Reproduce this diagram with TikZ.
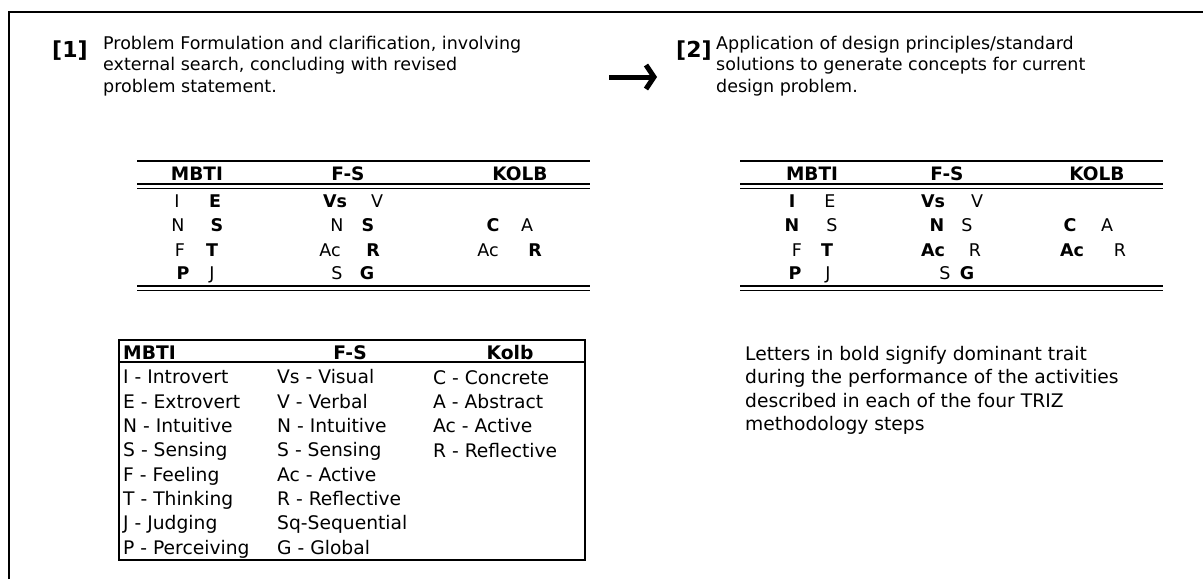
\documentclass[tikz,border=0pt]{standalone}
\usepackage{fontspec}
\setmainfont{DejaVu Sans}
\usetikzlibrary{arrows.meta,positioning}

\tikzstyle{stepnum} = [anchor=base west, inner sep=0, font=\fontsize{22}{26}\selectfont\bfseries]
\tikzstyle{steptext} = [anchor=base west, inner sep=0, align=left, font=\fontsize{17.5}{21.5}\selectfont]
\tikzstyle{head} = [anchor=base, inner sep=0, font=\fontsize{18.5}{20}\selectfont\bfseries]
\tikzstyle{cell} = [anchor=base, inner sep=0, font=\fontsize{17.5}{20}\selectfont]
\tikzstyle{bcell} = [cell, font=\fontsize{17.5}{20}\selectfont\bfseries]
\tikzstyle{legend} = [anchor=base west, inner sep=0, align=left, font=\fontsize{18.7}{24.3}\selectfont]
\tikzstyle{note} = [anchor=base west, inner sep=0, align=left, font=\fontsize{18.7}{23.5}\selectfont]
\tikzstyle{rule} = [draw, line width=2pt]
\tikzstyle{thin} = [draw, line width=1.2pt]
\tikzstyle{arrow} = [draw, line width=5pt, -{Straight Barb[length=8pt, width=24pt, line width=5pt]}]

\begin{document}
\begin{tikzpicture}[x=1pt, y=-1pt]
    \useasboundingbox (0,0) rectangle (1203,579);

    % frame
    \draw[line width=2pt] (9,579) -- (9,11.5) -- (1203,11.5);

    % steps (multi-line nodes sit on their last line)
    \node[stepnum] (num1) at (52,57) {[1]};
    \node[steptext] (text1) at (103,92) {Problem Formulation and clarification, involving\\external search, concluding with revised\\problem statement.};
    \node[stepnum] (num2) at (676,57) {[2]};
    \node[steptext] (text2) at (716,92) {Application of design principles/standard\\solutions to generate concepts for current\\design problem.};

    \coordinate (arrS) at (609,77);
    \coordinate (arrE) at (657,77);
    \draw [arrow] (arrS) to (arrE);

    % table of step 1
    \draw[rule] (137,161) -- (590,161);
    \draw[rule] (137,184) -- (590,184);
    \draw[thin] (137,188.5) -- (590,188.5);
    \draw[rule] (137,286) -- (590,286);
    \draw[thin] (137,290.5) -- (590,290.5);

    \node[head] (aM) at (197,180) {MBTI};
    \node[head] (aF) at (348,180) {F-S};
    \node[head] (aK) at (520,180) {KOLB};

    \node[cell] (a11) at (177,207) {I};   \node[bcell] (a12) at (215,207) {E};
    \node[bcell] (a13) at (335,207) {Vs};  \node[cell] (a14) at (377,207) {V};
    \node[cell] (a21) at (178,231.5) {N}; \node[bcell] (a22) at (217,231.5) {S};
    \node[cell] (a23) at (337,231.5) {N}; \node[bcell] (a24) at (368,231.5) {S};
    \node[bcell] (a25) at (493,231.5) {C}; \node[cell] (a26) at (527,231.5) {A};
    \node[cell] (a31) at (180,256) {F};   \node[bcell] (a32) at (212,256) {T};
    \node[cell] (a33) at (330,256) {Ac};  \node[bcell] (a34) at (373,256) {R};
    \node[cell] (a35) at (488,256) {Ac};  \node[bcell] (a36) at (535,256) {R};
    \node[bcell] (a41) at (183,279) {P};  \node[cell] (a42) at (212,279) {J};
    \node[cell] (a43) at (337,279) {S};   \node[bcell] (a44) at (367,279) {G};

    % table of step 2
    \draw[rule] (740,161) -- (1163,161);
    \draw[rule] (740,184) -- (1163,184);
    \draw[thin] (740,188.5) -- (1163,188.5);
    \draw[rule] (740,286) -- (1163,286);
    \draw[thin] (740,290.5) -- (1163,290.5);

    \node[head] (bM) at (812,180) {MBTI};
    \node[head] (bF) at (947,180) {F-S};
    \node[head] (bK) at (1097,180) {KOLB};

    \node[bcell] (b11) at (792,207) {I};  \node[cell] (b12) at (830,207) {E};
    \node[bcell] (b13) at (933,207) {Vs};  \node[cell] (b14) at (977,207) {V};
    \node[bcell] (b21) at (792,231.5) {N}; \node[cell] (b22) at (832,231.5) {S};
    \node[bcell] (b23) at (937,231.5) {N}; \node[cell] (b24) at (967,231.5) {S};
    \node[bcell] (b25) at (1070,231.5) {C}; \node[cell] (b26) at (1107,231.5) {A};
    \node[cell] (b31) at (797,256) {F};   \node[bcell] (b32) at (827,256) {T};
    \node[bcell] (b33) at (933,256) {Ac}; \node[cell] (b34) at (975,256) {R};
    \node[bcell] (b35) at (1072,256) {Ac}; \node[cell] (b36) at (1120,256) {R};
    \node[bcell] (b41) at (795,279) {P};  \node[cell] (b42) at (828,279) {J};
    \node[cell] (b43) at (945,279) {S};   \node[bcell] (b44) at (967,279) {G};

    % legend
    \draw[line width=1.5pt] (119,340) rectangle (585,560);
    \draw[line width=1.5pt] (119,362) -- (585,362);
    \node[legend, font=\fontsize{18.7}{24.3}\selectfont\bfseries] (legMh) at (123,359) {MBTI};
    \node[head, font=\fontsize{18.7}{24.3}\selectfont\bfseries] (legFh) at (350,359) {F-S};
    \node[head, font=\fontsize{18.7}{24.3}\selectfont\bfseries] (legKh) at (510,359) {Kolb};
    \node[legend] (legM) at (123,554) {I - Introvert\\E - Extrovert\\N - Intuitive\\S - Sensing\\F - Feeling\\T - Thinking\\J - Judging\\P - Perceiving};
    \node[legend] (legF) at (277,554) {Vs - Visual\\V - Verbal\\N - Intuitive\\S - Sensing\\Ac - Active\\R - Reflective\\Sq-Sequential\\G - Global};
    \node[legend] (legK) at (433,457) {C - Concrete\\A - Abstract\\Ac - Active\\R - Reflective};

    % note
    \node[note] (note) at (745,430.5) {Letters in bold signify dominant trait\\during the performance of the activities\\described in each of the four TRIZ\\methodology steps};
\end{tikzpicture}
\end{document}
